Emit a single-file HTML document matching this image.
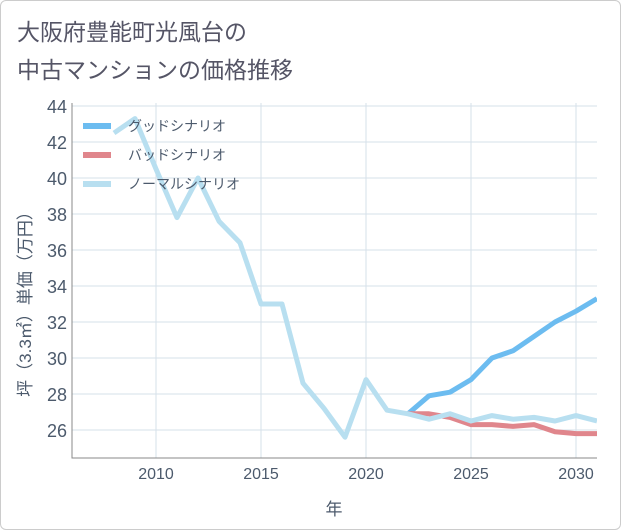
<!DOCTYPE html>
<html><head><meta charset="utf-8"><style>
body{margin:0;background:#fff;}
#wrap{position:relative;width:619px;height:528px;border:1px solid #ccc;border-radius:6px;background:#fff;font-family:"Liberation Sans","Noto Sans CJK JP",sans-serif;overflow:hidden}
#title{position:absolute;left:16px;top:12px;font-size:23px;line-height:38px;color:#556;}
</style></head><body>
<div id="wrap">
<div id="title">大阪府豊能町光風台の<br>中古マンションの価格推移</div>
<svg id="chart" width="621" height="530" style="position:absolute;left:-1px;top:-1px"></svg>
</div>
<script>
const years=[2008,2009,2010,2011,2012,2013,2014,2015,2016,2017,2018,2019,2020,2021,2022,2023,2024,2025,2026,2027,2028,2029,2030,2031];
const normal=[42.5,43.3,40.5,37.8,40.0,37.6,36.4,33.0,33.0,28.6,27.2,25.6,28.8,27.1,26.9,26.6,26.9,26.5,26.8,26.6,26.7,26.5,26.8,26.5];
const goodYears=[2022,2023,2024,2025,2026,2027,2028,2029,2030,2031];
const good=[26.9,27.9,28.1,28.8,30.0,30.4,31.2,32.0,32.6,33.3];
const bad=[26.9,26.9,26.7,26.3,26.3,26.2,26.3,25.9,25.8,25.8];
const yTicks=[26,28,30,32,34,36,38,40,42,44];
const xTicks=[2010,2015,2020,2025,2030];
const X0=72,X1=597,Y0=103,Y1=458;
const xs=y=>156+(y-2010)*21;
const ys=v=>430-(v-26)*18;
const svg=document.getElementById('chart');
const NS='http://www.w3.org/2000/svg';
const TC='#4c5a6c';
function mk(t,a,p){const e=document.createElementNS(NS,t);for(const k in a)e.setAttribute(k,a[k]);(p||svg).appendChild(e);return e;}
const clip=mk('clipPath',{id:'pc'});mk('rect',{x:X0,y:Y0,width:X1-X0,height:Y1-Y0},clip);
for(const t of yTicks){const g=mk('line',{x1:X0,x2:X1,y1:ys(t),y2:ys(t),stroke:'#d5e0ea','stroke-width':1});

const l=mk('text',{x:67,y:ys(t)+7,'text-anchor':'end','font-size':18,fill:TC});l.textContent=t;
}
for(const t of xTicks){const g=mk('line',{x1:xs(t),x2:xs(t),y1:Y0,y2:Y1,stroke:'#d5e0ea','stroke-width':1});

const l=mk('text',{x:xs(t),y:479,'text-anchor':'middle','font-size':16,fill:TC});l.textContent=t;
}
const ax=mk('path',{d:`M${X0} ${Y0}V${Y1}H${X1}`,fill:'none',stroke:'#888','stroke-width':1});

function line(xv,yv,color,name){const p=mk('polyline',{points:xv.map((x,i)=>xs(x)+','+ys(yv[i])).join(' '),fill:'none',stroke:color,'stroke-width':5,'stroke-linejoin':'round','clip-path':'url(#pc)'});
}
line(goodYears,good,'#6cbcf0','good-scenario-line');
line(goodYears,bad,'#e0868c','bad-scenario-line');
line(years,normal,'#b8dff0','normal-scenario-line');
const leg=[['グッドシナリオ','#6cbcf0'],['バッドシナリオ','#e0868c'],['ノーマルシナリオ','#b8dff0']];
leg.forEach((d,i)=>{const y=126+i*29;
const s=mk('line',{x1:83,x2:111,y1:y,y2:y,stroke:d[1],'stroke-width':6});

const t=mk('text',{x:128,y:y+5,'font-size':14,fill:TC});t.textContent=d[0];
});
const xt=mk('text',{x:334,y:515,'text-anchor':'middle','font-size':17,fill:TC});xt.textContent='年';

const yt=mk('text',{x:0,y:0,'text-anchor':'middle','font-size':17,fill:TC,transform:'translate(31,300) rotate(-90)'});yt.textContent='坪（3.3㎡）単価（万円）';

</script>
</body></html>
